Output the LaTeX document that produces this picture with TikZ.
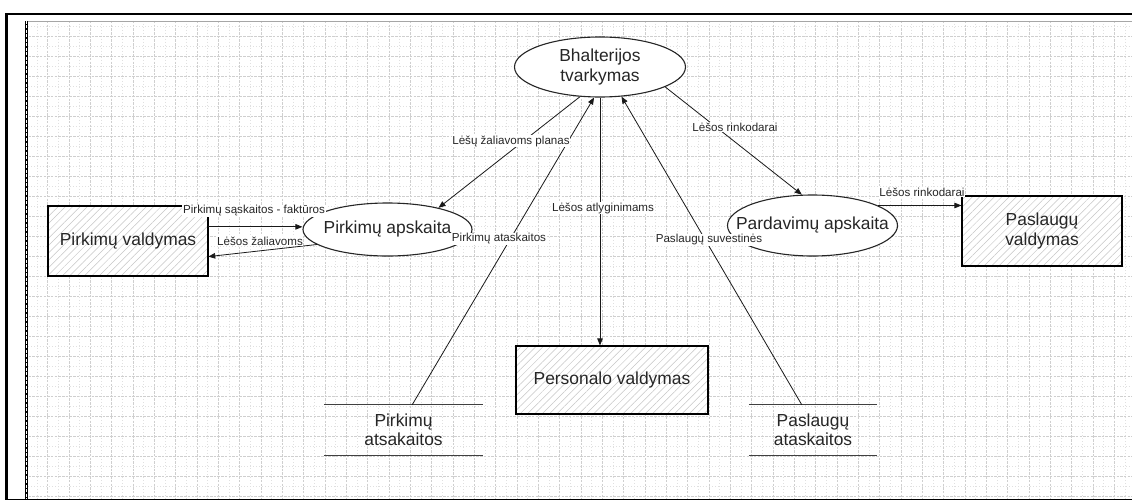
\documentclass[tikz,border=0pt]{standalone}
\usepackage{fontspec}
\setmainfont{Liberation Sans}
\usetikzlibrary{arrows.meta,shapes.geometric,patterns.meta}

\begin{document}
\begin{tikzpicture}[x=1pt,y=-1pt,
  big/.style={font=\fontsize{17.4}{19.5}\selectfont, align=center, text=black!85, inner sep=0pt},
  lbl/.style={font=\fontsize{11.6}{13}\selectfont, text=black!85, fill=white, inner sep=0.6pt},
  proc/.style={ellipse, draw=black!85, line width=1.1pt, fill=white, inner sep=0pt},
  ent/.style={rectangle, draw=black, line width=1.1pt, preaction={fill=white},
    pattern={Lines[angle=45,distance=5.2pt,line width=0.5pt]}, pattern color=gray!45,
    big},
  store/.style={rectangle, inner sep=0pt, big},
  storeline/.style={draw=black!75, line width=1.2pt},
  arr/.style={draw=black!90, line width=0.8pt, -{Triangle[length=7pt,width=5.5pt]}},
  gridmajor/.style={draw=gray!38, line width=0.6pt, dash pattern=on 2.5pt off 1.2pt},
  gridminor/.style={draw=gray!24, line width=0.5pt, dash pattern=on 1pt off 2pt},
]
\useasboundingbox (0,0) rectangle (1132,500);
\fill[white] (0,0) rectangle (1132,500);

% drawing-page grid
\begin{scope}
  \clip (25,21) rectangle (1132,499);
  \foreach \k in {-1,...,51} {
    \draw[gridminor] ({47.7+21.33*\k+10.67},21) -- ++(0,478);
    \draw[gridmajor] ({47.7+21.33*\k},21) -- ++(0,478);
  }
  \foreach \k in {-1,...,23} {
    \draw[gridminor] (25,{36.7+20*\k+10}) -- ++(1107,0);
    \draw[gridmajor] (25,{36.7+20*\k}) -- ++(1107,0);
  }
\end{scope}
\draw[gray!70, line width=0.8pt] (25,21) -- (1132,21);
\draw[black, line width=3pt] (26,21) -- (26,499);
\draw[white, line width=1pt, dash pattern=on 3pt off 1.5pt] (26,21) -- (26,499);

% outer frame
\draw[black, line width=2.6pt] (6.5,499.5) -- (6.5,14) -- (1132,14);
\draw[black, line width=2pt] (6.5,499.5) -- (1132,499.5);

% processes
\node[proc, minimum width=171pt, minimum height=60pt] (bt) at (600,67) {};
\node[big] at (bt) {Bhalterijos\\tvarkymas};
\node[proc, minimum width=169pt, minimum height=53pt] (pa) at (387.5,229.5) {};
\node[big] at (pa) {Pirkimų apskaita};
\node[proc, minimum width=170pt, minimum height=61pt] (pd) at (812.5,225.5) {};
\node[big] at (pd) {Pardavimų apskaita};

% external entities
\node[ent, minimum width=160pt, minimum height=70pt] (pvd) at (128,241) {Pirkimų valdymas};
\node[ent, minimum width=160pt, minimum height=70pt] (psv) at (1042,231) {Paslaugų\\valdymas};
\node[ent, minimum width=192pt, minimum height=68pt] (pers) at (612,380) {Personalo valdymas};

% data stores
\node[store, minimum width=159pt, minimum height=50pt] (st1) at (403.5,430) {Pirkimų\\atsakaitos};
\draw[storeline] (st1.north west) -- (st1.north east) (st1.south west) -- (st1.south east);
\node[store, minimum width=128pt, minimum height=50pt] (st2) at (813,430) {Paslaugų\\ataskaitos};
\draw[storeline] (st2.north west) -- (st2.north east) (st2.south west) -- (st2.south east);

% data flows
\draw[arr] (bt.236) -- (pa.23);
\draw[arr] (st1.71) -- (bt.259);
\draw[arr] (bt.south) -- (bt.south |- pers.north);
\draw[arr] (st2.114) -- (bt.306);
\draw[arr] (bt.343) -- (pd.109);
\draw[arr] (pvd.10) -- (pvd.10 -| pa.west);
\draw[arr] (pa.192) -- (pvd.349);
\draw[arr] (pd.17) -- (pd.17 -| psv.west);

% flow labels
\node[lbl] (l1) at (511,141) {Lėšų žaliavoms planas};
\node[lbl] (l2) at (499,239) {Pirkimų ataskaitos};
\node[lbl] (l3) at (603,208) {Lėšos atlyginimams};
\node[lbl] (l4) at (709,240) {Paslaugų suvestinės};
\node[lbl] (l5) at (735,127) {Lėšos rinkodarai};
\node[lbl] (l6) at (254,211) {Pirkimų sąskaitos - faktūros};
\node[lbl] (l7) at (260,241) {Lėšos žaliavoms};
\node[lbl] (l8) at (922,192) {Lėšos rinkodarai};
\end{tikzpicture}
\end{document}
